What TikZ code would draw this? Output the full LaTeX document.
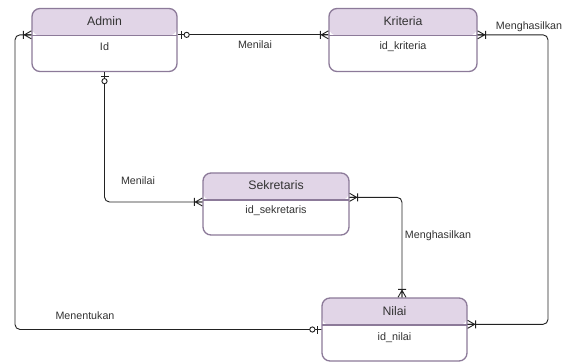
\documentclass[tikz,border=0pt]{standalone}
\usepackage{fontspec}
\setmainfont{Liberation Sans}
\usetikzlibrary{calc}
\definecolor{hdr}{HTML}{E1D5E7}
\definecolor{bord}{HTML}{8C7A99}
\definecolor{txt}{HTML}{333333}
\definecolor{ln}{HTML}{222222}
\begin{document}
\begin{tikzpicture}[x=1pt,y=-1pt,
  conn/.style={draw=ln, line width=0.9pt},
  entity/.style={draw=bord, line width=1.3pt, rounded corners=8pt, minimum width=145pt,
    minimum height=63pt, inner sep=0pt, fill=white,
    path picture={\fill[hdr] (path picture bounding box.north west) rectangle ([yshift=-27pt]path picture bounding box.north east);
      \draw[bord,line width=1.3pt] ([yshift=-27pt]path picture bounding box.north west) -- ([yshift=-27pt]path picture bounding box.north east);}},
  title/.style={text=txt, font=\fontsize{12.3pt}{14pt}\selectfont, inner sep=0pt},
  attr/.style={text=txt, font=\fontsize{10.8pt}{13pt}\selectfont, inner sep=0pt},
  lbl/.style={text=txt, font=\fontsize{10.7pt}{13pt}\selectfont, inner sep=0pt},
  onemany/.pic={\draw[conn] (0,-4)--(7,0)--(0,4) (0,0)--(7,0) (8,-4)--(8,4);},
  zeroone/.pic={\draw[conn] (4,-4)--(4,4); \draw[conn,fill=white] (9,0) circle (2.6pt);}
]
\useasboundingbox[fill=white] (0,0) rectangle (570,363);

% entities
\node[entity] (admin) at (104.5,40) {};
\node[title] (adminT) at ($(admin.north)+(0,13)$) {Admin};
\node[attr] (adminA) at ($(admin.north)+(0,39)$) {Id};

\node[entity, minimum width=148pt] (krit) at (403,40) {};
\node[title] (kritT) at ($(krit.north)+(0,13)$) {Kriteria};
\node[attr] (kritA) at ($(krit.north)+(0,39)$) {id\_kriteria};

\node[entity, minimum width=146pt, minimum height=62pt] (sek) at (276,204) {};
\node[title] (sekT) at ($(sek.north)+(0,13)$) {Sekretaris};
\node[attr] (sekA) at ($(sek.north)+(0,38.5)$) {id\_sekretaris};

\node[entity] (nilai) at (394.5,329.5) {};
\node[title] (nilaiT) at ($(nilai.north)+(0,13.5)$) {Nilai};
\node[attr] (nilaiA) at ($(nilai.north)+(0,40)$) {id\_nilai};

% anchor coordinates
\coordinate (adminR) at ($(admin.north east)+(0,27)$);
\coordinate (adminL) at ($(admin.north west)+(0,27)$);
\coordinate (kritL) at ($(krit.north west)+(0,27)$);
\coordinate (kritR) at ($(krit.north east)+(0,27)$);
\coordinate (sekR) at ($(sek.north east)+(0,25)$);
\coordinate (sekL) at ($(sek.west)+(0,-2)$);
\coordinate (nilaiR) at ($(nilai.north east)+(0,27)$);
\coordinate (nilaiT) at ($(nilai.north)+(7.5,0)$);
\coordinate (rx) at (548,0);
\coordinate (lx) at (15,0);

% connectors
\draw[conn] (adminR) -- (kritL);
\draw[conn, rounded corners=5pt] (admin.south) |- (sekL);
\draw[conn, rounded corners=5pt] (kritR) -- (rx |- kritR) -- (rx |- nilaiR) -- (nilaiR);
\draw[conn, rounded corners=5pt] (sekR) -| (nilaiT);
\draw[conn, rounded corners=5pt] (nilai.west) -- (lx |- nilai.west) -- (lx |- adminL) -- (adminL);

% end markers
\pic at (adminR) {zeroone};
\pic[rotate=180] at (kritL) {onemany};
\pic[rotate=-90] at (admin.south) {zeroone};
\pic[rotate=180] at (sekL) {onemany};
\pic at (kritR) {onemany};
\pic at (nilaiR) {onemany};
\pic at (sekR) {onemany};
\pic[rotate=90] at (nilaiT) {onemany};
\pic[rotate=180] at (nilai.west) {zeroone};
\pic[rotate=180] at (adminL) {onemany};

% labels
\node[lbl] (l1) at (255,45) {Menilai};
\node[lbl] (l2) at (138,181) {Menilai};
\node[lbl] (l3) at (529,27) {Menghasilkan};
\node[lbl] (l4) at (438,236) {Menghasilkan};
\node[lbl] (l5) at (85,316) {Menentukan};
\end{tikzpicture}
\end{document}
